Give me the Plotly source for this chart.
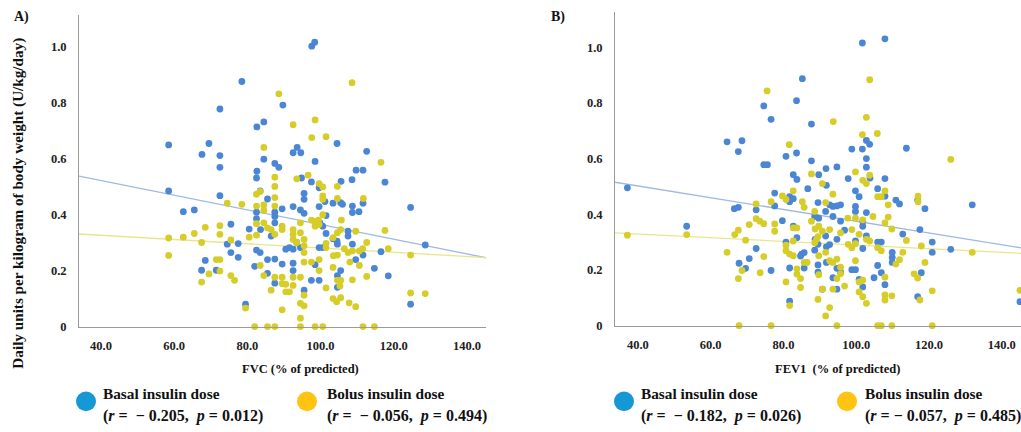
import plotly.graph_objects as go

# ---------------- data ----------------
# Panel A: FVC (% predicted) vs daily insulin dose (U/kg/day)
fvc_basal_x = [97.6, 98.4, 78.5, 89.7, 72.5, 82.6, 84.5, 58.5, 69.5, 67.6, 72.5, 72.5, 104.5, 92.5, 93.6, 94.6,
               112.6, 84.5, 98.5, 87.5, 88.6, 82.6, 109.7, 111.6,
               58.5, 62.5, 65.5, 72.5, 75.5, 74.5, 77.5, 75.5, 77.5, 68.5, 67.5, 71.5, 82.5, 83.5, 85.5, 82.5,
               82.5, 89.5, 87.5, 87.5, 87.5, 92.5, 94.5, 95.5, 95.5, 95.5, 80.5, 83.6, 86.5, 82.5, 83.5, 85.5,
               87.5, 89.5, 90.5, 91.5, 92.5, 82.0, 85.5, 87.5, 92.5, 92.5, 95.5, 79.5, 93.5, 94.5,
               117.6, 108.6, 105.6, 97.5, 94.8, 99.6, 101.2, 103.4, 105.5, 106.0, 99.6, 111.6, 108.7, 108.7,
               110.5, 101.5, 124.6, 99.8, 100.6, 101.5, 103.4, 104.5, 107.5, 107.5, 99.6, 100.6, 104.6, 108.7,
               128.6, 111.6, 116.5, 109.6, 98.5, 105.5, 104.6, 114.7, 118.5, 97.5, 99.6, 104.6, 124.6]
fvc_basal_y = [1.0, 1.014, 0.874, 0.79, 0.776, 0.712, 0.73, 0.648, 0.653, 0.614, 0.61, 0.568, 0.653, 0.62, 0.639, 0.62,
               0.625, 0.597, 0.589, 0.582, 0.568, 0.554, 0.558, 0.558,
               0.484, 0.41, 0.416, 0.467, 0.365, 0.294, 0.296, 0.264, 0.247, 0.236, 0.201, 0.201, 0.53, 0.484, 0.455, 0.408,
               0.385, 0.42, 0.408, 0.393, 0.37, 0.428, 0.416, 0.404, 0.475, 0.454, 0.348, 0.346, 0.323, 0.273, 0.264, 0.239,
               0.241, 0.223, 0.276, 0.282, 0.276, 0.215, 0.19, 0.155, 0.2, 0.226, 0.13, 0.08, 0.3, 0.282,
               0.515, 0.524, 0.518, 0.516, 0.53, 0.495, 0.446, 0.44, 0.442, 0.436, 0.428, 0.44, 0.43, 0.407,
               0.41, 0.396, 0.425, 0.37, 0.358, 0.332, 0.313, 0.305, 0.323, 0.34, 0.282, 0.282, 0.294, 0.294,
               0.291, 0.255, 0.267, 0.239, 0.221, 0.2, 0.182, 0.208, 0.181, 0.165, 0.165, 0.14, 0.08]

fvc_bolus_x = [108.6, 88.6, 92.5, 98.5, 97.6, 101.5, 84.5, 116.5, 96.6,
               93.5, 87.5, 87.5, 82.5, 83.5, 74.5, 78.5, 87.5, 87.5, 84.5, 84.5, 82.5, 82.5, 72.5, 68.5, 65.5,
               62.5, 58.5, 58.5, 67.5, 72.5, 75.5, 80.5, 82.5, 84.5, 85.5, 86.5, 87.5, 89.5, 89.5, 92.5, 92.5,
               92.5, 93.5, 94.5, 94.5, 95.5, 95.5, 95.5, 72.5, 71.5, 69.5, 72.5, 67.5, 75.5, 76.5, 83.5, 84.5,
               87.5, 89.5, 89.5, 86.5, 90.5, 91.5, 90.5, 92.5, 92.5, 94.5, 94.5, 95.5, 89.5, 79.5, 94.5,
               82.0, 85.5, 87.5, 94.5,
               99.6, 100.6, 100.6, 100.6, 104.6, 104.6, 111.7, 100.6, 97.5, 98.5, 99.4, 105.7, 98.5, 99.6,
               104.6, 103.4, 105.5, 109.6, 117.6, 101.5, 101.5, 112.6, 111.5, 110.6, 118.5, 124.6, 106.5, 107.5,
               108.7, 103.5, 104.6, 108.0, 110.6, 99.6, 97.5, 95.5, 99.6, 103.4, 104.6, 105.5, 105.3, 108.7,
               112.6, 101.5, 103.4, 104.4, 105.5, 107.8, 109.6, 124.6, 128.6, 95.5, 98.5, 100.6, 111.6, 114.7]
fvc_bolus_y = [0.87, 0.83, 0.72, 0.737, 0.674, 0.677, 0.639, 0.586, 0.54,
               0.527, 0.533, 0.5, 0.472, 0.482, 0.44, 0.436, 0.46, 0.43, 0.434, 0.414, 0.43, 0.367, 0.36, 0.354, 0.332,
               0.319, 0.316, 0.254, 0.3, 0.329, 0.309, 0.319, 0.326, 0.37, 0.352, 0.346, 0.329, 0.358, 0.346, 0.346, 0.329,
               0.311, 0.3, 0.37, 0.335, 0.311, 0.288, 0.264, 0.239, 0.239, 0.188, 0.198, 0.159, 0.182, 0.165, 0.218, 0.182,
               0.176, 0.176, 0.153, 0.13, 0.124, 0.124, 0.151, 0.147, 0.176, 0.176, 0.083, 0.074, 0.06, 0.066, 0.03,
               0.0, 0.0, 0.0, 0.0,
               0.51, 0.498, 0.466, 0.454, 0.5, 0.457, 0.457, 0.399, 0.38, 0.375, 0.38, 0.38, 0.358, 0.364,
               0.335, 0.317, 0.346, 0.34, 0.343, 0.297, 0.282, 0.3, 0.278, 0.27, 0.278, 0.255, 0.278, 0.264,
               0.27, 0.253, 0.255, 0.23, 0.218, 0.239, 0.23, 0.23, 0.2, 0.211, 0.165, 0.165, 0.145, 0.167,
               0.179, 0.138, 0.1, 0.089, 0.103, 0.085, 0.071, 0.12, 0.118, 0.112, 0.0, 0.0, 0.0, 0.0]

# Panel B: FEV1 (% predicted) vs daily insulin dose (U/kg/day)
fev_basal_x = [101.7, 107.9, 85.2, 83.6, 74.6, 76.6, 87.7, 64.5, 68.6, 67.6, 80.7, 83.6, 74.6, 75.6, 87.7, 91.7,
               94.7, 102.8, 103.7, 98.8, 101.7, 102.8, 102.8, 113.8, 82.7, 89.7,
               83.7, 86.7, 77.6, 81.7, 82.7, 81.7, 77.6, 66.5, 67.6, 72.5, 53.4, 79.7, 82.7, 88.6, 89.5, 80.7,
               83.7, 72.5, 85.0, 85.7, 84.7, 88.6, 89.5, 67.8, 70.6, 69.6, 76.6, 81.7, 85.7, 81.7, 89.5, 89.5,
               37.1, 145.0,
               97.8, 103.8, 107.9, 99.8, 100.8, 91.8, 105.9, 107.9, 110.9, 111.9, 92.7, 93.6, 94.7, 95.7, 99.8,
               99.8, 102.8, 116.9, 118.9, 131.9, 89.7, 91.6, 93.6, 95.7, 96.8, 101.8, 101.8, 112.8, 117.5, 88.7,
               91.6, 94.7, 92.7, 99.8, 102.8, 91.8, 101.8, 105.9, 106.9, 109.9, 109.9, 109.9, 120.9, 120.9, 126.0,
               91.8, 94.7, 95.7, 98.8, 99.8, 105.9, 106.9, 93.6, 94.7, 100.8, 101.8, 104.9, 107.9, 117.9, 116.9, 90.7]
fev_basal_y = [1.015, 1.03, 0.887, 0.808, 0.789, 0.741, 0.724, 0.66, 0.664, 0.625, 0.608, 0.62, 0.578, 0.578, 0.592, 0.564,
               0.57, 0.665, 0.651, 0.634, 0.634, 0.6, 0.569, 0.637, 0.542, 0.542,
               0.525, 0.492, 0.476, 0.463, 0.456, 0.445, 0.43, 0.42, 0.425, 0.416, 0.357, 0.377, 0.357, 0.392, 0.442, 0.3,
               0.316, 0.277, 0.257, 0.262, 0.25, 0.271, 0.292, 0.224, 0.241, 0.206, 0.198, 0.207, 0.207, 0.088, 0.218, 0.192,
               0.495, 0.086,
               0.528, 0.53, 0.528, 0.484, 0.463, 0.504, 0.492, 0.465, 0.451, 0.437, 0.434, 0.428, 0.43, 0.434, 0.428,
               0.41, 0.406, 0.451, 0.42, 0.434, 0.386, 0.41, 0.392, 0.375, 0.343, 0.375, 0.357, 0.329, 0.345, 0.31,
               0.322, 0.31, 0.291, 0.304, 0.322, 0.283, 0.277, 0.3, 0.3, 0.263, 0.245, 0.227, 0.3, 0.263, 0.274,
               0.227, 0.206, 0.192, 0.201, 0.201, 0.216, 0.19, 0.172, 0.131, 0.166, 0.139, 0.172, 0.147, 0.19, 0.104, 0.131]

fev_bolus_x = [75.5, 103.7, 93.7, 102.8, 101.7, 105.8, 81.6, 126.0, 87.7, 99.8, 103.7,
               82.7, 79.7, 80.7, 76.6, 85.2, 85.7, 88.6, 87.7, 72.5, 72.5, 73.5, 74.6, 77.6, 77.6, 70.6, 67.6,
               66.6, 53.4, 69.6, 82.7, 83.7, 80.7, 80.7, 81.7, 82.7, 82.7, 74.6, 64.5, 88.6, 89.1, 89.5, 85.7,
               86.5, 83.7, 83.7, 84.7, 68.6, 67.6, 73.6, 80.7, 84.7, 89.5, 81.7, 67.8, 76.6,
               37.1, 145.0,
               90.7, 93.6, 101.8, 102.8, 105.9, 106.9, 107.9, 108.8, 91.6, 97.7, 99.8, 101.8, 104.6, 107.9, 108.8,
               117.0, 117.0, 88.7, 89.7, 90.7, 92.7, 95.7, 98.8, 100.8, 102.8, 97.8, 98.8, 99.8, 103.7, 105.9,
               106.9, 109.8, 113.8, 117.9, 131.9, 89.7, 91.6, 92.7, 93.6, 94.7, 95.7, 95.7, 94.7, 99.8, 110.9,
               111.9, 112.8, 118.9, 115.9, 116.9, 89.7, 96.8, 90.7, 93.6, 100.8, 101.8, 100.8, 101.8, 102.8, 107.9,
               107.9, 109.8, 107.9, 120.9, 117.5, 92.7, 91.6, 94.7, 105.9, 106.9, 109.8, 120.9]
fev_bolus_y = [0.843, 0.883, 0.733, 0.748, 0.686, 0.69, 0.65, 0.597, 0.545, 0.552, 0.54,
               0.484, 0.466, 0.453, 0.445, 0.445, 0.425, 0.41, 0.375, 0.437, 0.384, 0.375, 0.366, 0.365, 0.339, 0.363, 0.343,
               0.327, 0.327, 0.307, 0.351, 0.351, 0.289, 0.269, 0.257, 0.304, 0.251, 0.248, 0.263, 0.298, 0.31, 0.32, 0.227,
               0.227, 0.204, 0.185, 0.169, 0.198, 0.169, 0.19, 0.157, 0.137, 0.094, 0.072, 0.0, 0.0,
               0.325, 0.127,
               0.51, 0.472, 0.522, 0.51, 0.463, 0.463, 0.484, 0.434, 0.442, 0.386, 0.386, 0.38, 0.392, 0.369, 0.39,
               0.465, 0.445, 0.347, 0.357, 0.339, 0.345, 0.333, 0.345, 0.328, 0.31, 0.292, 0.28, 0.294, 0.304, 0.28,
               0.269, 0.347, 0.306, 0.286, 0.263, 0.251, 0.263, 0.233, 0.227, 0.239, 0.21, 0.186, 0.169, 0.233, 0.221,
               0.237, 0.263, 0.227, 0.186, 0.171, 0.183, 0.142, 0.131, 0.131, 0.157, 0.163, 0.121, 0.104, 0.08, 0.11,
               0.092, 0.107, 0.174, 0.125, 0.092, 0.065, 0.035, 0.0, 0.0, 0.0, 0.0, 0.0]

# fitted lines (intercept, slope)
fit_A_basal = (0.626, -0.00262)
fit_A_bolus = (0.356, -0.000757)
fit_B_basal = (0.586, -0.00211)
fit_B_bolus = (0.355, -0.000656)

x_tick_vals = [40, 60, 80, 100, 120, 140]
x_tick_text = ["40.0", "60.0", "80.0", "100.0", "120.0", "140.0"]
y_tick_vals = [0, 0.2, 0.4, 0.6, 0.8, 1.0]
y_tick_text = ["0", "0.2", "0.4", "0.6", "0.8", "1.0"]

stats_A = ["(<i>r</i> =  − 0.205,  <i>p</i> = 0.012)", "(<i>r</i> =  − 0.056,  <i>p</i> = 0.494)"]
stats_B = ["(<i>r</i> =  − 0.182,  <i>p</i> = 0.026)", "(<i>r</i> = − 0.057,  <i>p</i> = 0.485)"]

# ---------------- styling ----------------
W, H = 1021, 432
BLUE = "rgb(74,134,212)"
YELLOW = "rgb(214,205,40)"
BLUE_LINE = "rgb(158,186,226)"
YELLOW_LINE = "rgb(232,230,140)"
LEG_BLUE = "rgb(22,152,212)"
LEG_YELLOW = "rgb(255,196,18)"
SERIF = "Liberation Serif"

XR_A = [34.0, 145.2]
XR_B = [33.7, 145.3]

def px(x):
    return x / W

def py(y):
    return 1 - y / H

fig = go.Figure()

def add_panel(xa, ya, bx, by, yx, yy, fit_b, fit_y, xr):
    for (a, b), col in ((fit_b, BLUE_LINE), (fit_y, YELLOW_LINE)):
        fig.add_trace(go.Scatter(x=xr, y=[a + b * xr[0], a + b * xr[1]], mode="lines",
                                 line=dict(color=col, width=1.3), xaxis=xa, yaxis=ya,
                                 showlegend=False, hoverinfo="skip"))
    fig.add_trace(go.Scatter(x=bx, y=by, mode="markers", marker=dict(color=BLUE, size=6.8),
                             xaxis=xa, yaxis=ya, showlegend=False, cliponaxis=False))
    fig.add_trace(go.Scatter(x=yx, y=yy, mode="markers", marker=dict(color=YELLOW, size=6.8),
                             xaxis=xa, yaxis=ya, showlegend=False, cliponaxis=False))

add_panel("x", "y", fvc_basal_x, fvc_basal_y, fvc_bolus_x, fvc_bolus_y, fit_A_basal, fit_A_bolus, XR_A)
add_panel("x2", "y2", fev_basal_x, fev_basal_y, fev_bolus_x, fev_bolus_y, fit_B_basal, fit_B_bolus, XR_B)

tickfont = dict(family=SERIF, size=12.5, color="#222", weight="bold")
axis_common = dict(showline=True, linecolor="#9a9a9a", linewidth=1, showgrid=False, zeroline=False,
                   ticks="", tickfont=tickfont)

fig.update_layout(
    width=W, height=H, margin=dict(l=0, r=0, t=0, b=0),
    paper_bgcolor="white", plot_bgcolor="white",
    xaxis=dict(domain=[px(79), px(486)], range=XR_A, tickvals=x_tick_vals, ticktext=x_tick_text,
               anchor="y", ticklabelstandoff=7, **axis_common),
    yaxis=dict(domain=[py(332), py(15)], range=[0, 1.112], tickvals=y_tick_vals, ticktext=y_tick_text,
               anchor="x", ticklabelstandoff=9, **axis_common),
    xaxis2=dict(domain=[px(615), 1.0], range=XR_B, tickvals=x_tick_vals, ticktext=x_tick_text,
                anchor="y2", ticklabelstandoff=7, **axis_common),
    yaxis2=dict(domain=[py(331), py(12)], range=[0, 1.127], tickvals=y_tick_vals, ticktext=y_tick_text,
                anchor="x2", ticklabelstandoff=9, **axis_common),
)

ann = []
def text(x, y, s, size, xanchor="left", angle=0):
    ann.append(dict(x=px(x), y=py(y), xref="paper", yref="paper", text=s, showarrow=False,
                    xanchor=xanchor, yanchor="middle", textangle=angle,
                    font=dict(family=SERIF, size=size, color="#111", weight="bold")))

text(12, 17, "A)", 14)
text(549, 17, "B)", 14)
text(18, 207, "Daily units per kilogram of body weight (U/kg/day)", 15.2, xanchor="center", angle=-90)
text(300, 375, "FVC (% of predicted)", 12.5, xanchor="center")
text(837, 375, "FEV1  (% of predicted)", 12.5, xanchor="center")

shapes = []
def circle(cx, cy, r, col):
    shapes.append(dict(type="circle", xref="paper", yref="paper", x0=px(cx - r), x1=px(cx + r),
                       y0=py(cy + r), y1=py(cy - r), fillcolor=col, line=dict(width=0)))

legend_sets = [
    (86, 101, 307, 325, stats_A),
    (624, 639, 847, 863, stats_B),
]
for cb, tb, cy_, ty, stats in legend_sets:
    circle(cb, 408, 10, LEG_BLUE)
    circle(cy_, 408, 10, LEG_YELLOW)
    text(tb, 400, "Basal insulin dose", 15.3)
    text(tb, 423, stats[0], 16)
    text(ty, 400, "Bolus insulin dose", 15.3)
    text(ty, 423, stats[1], 16)

fig.update_layout(annotations=ann, shapes=shapes)

fig.write_html("out.html")
